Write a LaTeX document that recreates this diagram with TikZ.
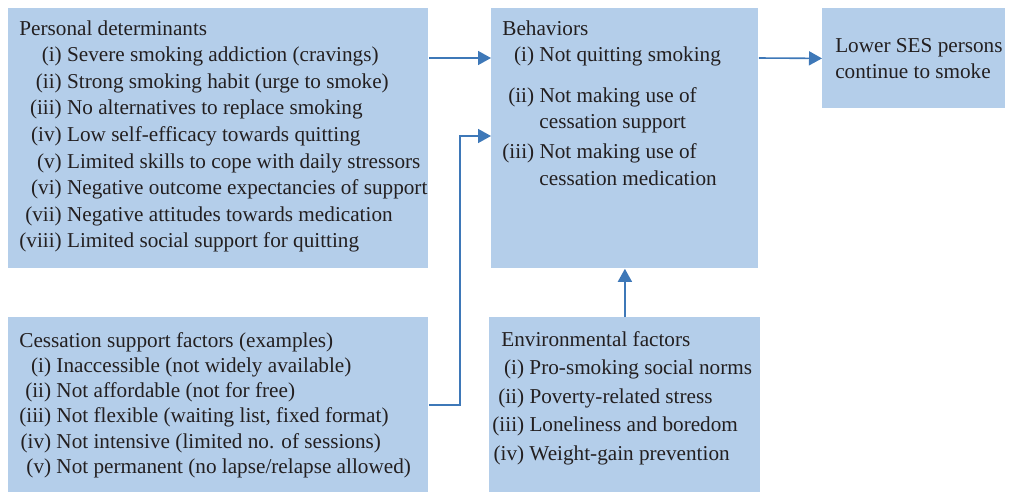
\documentclass[tikz,border=0pt]{standalone}
\usepackage{fontspec}
\setmainfont{Liberation Serif}
\usetikzlibrary{arrows.meta}
\definecolor{boxblue}{RGB}{180,206,234}
\definecolor{linkblue}{RGB}{62,120,184}
\definecolor{textgray}{RGB}{35,31,32}

\begin{document}
\begin{tikzpicture}[x=0.5pt, y=-0.5pt,
		factor/.style={fill=boxblue, anchor=north west, inner xsep=5.5pt, text=textgray, font=\fontsize{10.6}{13.3}\selectfont},
		link/.style={draw=linkblue, line width=0.8pt, -{Triangle[length=6.5pt,width=7pt]}}]
		\useasboundingbox (0,0) rectangle (1012,494);

		\node (personal) [factor, inner ysep=4pt] at (8,8) {\parbox[c][122pt][t]{199pt}{%
			\begin{tabular}{@{}r@{ }l@{}}
				\multicolumn{2}{@{}l@{}}{Personal determinants}\\
				(i) & Severe smoking addiction (cravings)\\
				(ii) & Strong smoking habit (urge to smoke)\\
				(iii) & No alternatives to replace smoking\\
				(iv) & Low self-efficacy towards quitting\\
				(v) & Limited skills to cope with daily stressors\\
				(vi) & Negative outcome expectancies of support\\
				(vii) & Negative attitudes towards medication\\
				(viii) & Limited social support for quitting
			\end{tabular}}};
		\node (behav) [factor, inner ysep=4pt] at (491,8) {\parbox[c][122pt][t]{122.5pt}{%
			\begin{tabular}{@{}r@{ }l@{}}
				\multicolumn{2}{@{}l@{}}{Behaviors}\\
				(i) & Not quitting smoking\\[7pt]
				(ii) & Not making use of\\
				 & cessation support\\[1.5pt]
				(iii) & Not making use of\\
				 & cessation medication
			\end{tabular}}};
		\node (lower) [factor, inner xsep=0pt, inner ysep=0pt, minimum width=91.5pt, minimum height=50pt, align=left] at (822,8) {\hspace*{5pt}Lower SES persons\\\hspace*{5pt}continue to smoke};
		\node (cess) [factor, inner ysep=6pt] at (8,317) {\parbox[c][75.5pt][t]{199pt}{%
			\renewcommand{\arraystretch}{0.95}%
			\begin{tabular}{@{}r@{ }l@{}}
				\multicolumn{2}{@{}l@{}}{Cessation support factors (examples)}\\
				(i) & Inaccessible (not widely available)\\
				(ii) & Not affordable (not for free)\\
				(iii) & Not flexible (waiting list, fixed format)\\
				(iv) & Not intensive (limited no. of sessions)\\
				(v) & Not permanent (no lapse/relapse allowed)
			\end{tabular}}};
		\node (env) [factor, inner xsep=1.5pt, inner ysep=4.5pt] at (489,317) {\parbox[c][78.5pt][t]{132.5pt}{%
			\renewcommand{\arraystretch}{1.07}%
			\begin{tabular}{@{}r@{ }l@{}}
				\multicolumn{2}{@{\hspace{4.5pt}}l@{}}{Environmental factors}\\
				(i) & Pro-smoking social norms\\
				(ii) & Poverty-related stress\\
				(iii) & Loneliness and boredom\\
				(iv) & Weight-gain prevention
			\end{tabular}}};

		\draw [link] ([yshift=-25pt]personal.north east) -- ([yshift=-25pt]behav.north west);
		\draw [link] ([yshift=-25pt]behav.north east) -- (lower.west);
		\draw [link] (env) -- (behav);
		\draw [link] (cess.east) -- ++(15.5pt,0) |- ([yshift=-64pt]behav.north west);
	\end{tikzpicture}
\end{document}
